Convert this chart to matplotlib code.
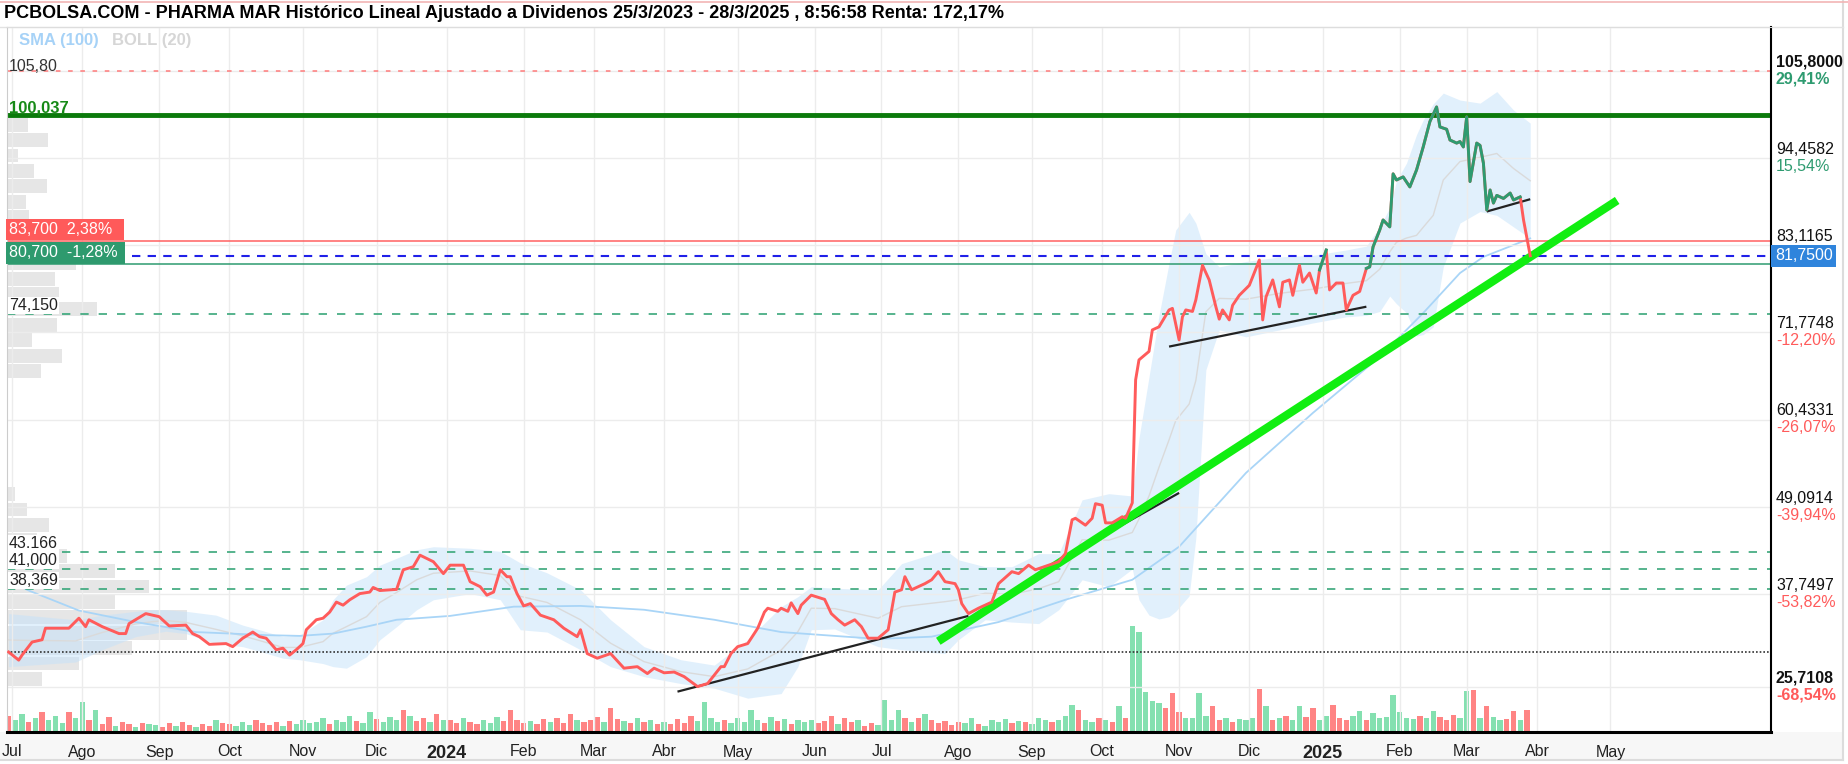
import numpy as np
import pandas as pd
import matplotlib
matplotlib.use("Agg")
import matplotlib.pyplot as plt
from matplotlib.transforms import blended_transform_factory
from matplotlib.lines import Line2D
from matplotlib.patches import Rectangle

plt.rcParams['font.family'] = ['Liberation Sans', 'DejaVu Sans']

# ---- daily closes ----
price_dates = [
    "2023-06-30", "2023-07-05", "2023-07-06", "2023-07-11", "2023-07-14", "2023-07-17", "2023-07-26", "2023-07-31",
    "2023-08-02", "2023-08-03", "2023-08-09", "2023-08-16", "2023-08-18", "2023-08-21", "2023-08-28", "2023-09-01",
    "2023-09-06", "2023-09-13", "2023-09-15", "2023-09-19", "2023-09-22", "2023-09-29", "2023-10-03", "2023-10-06",
    "2023-10-11", "2023-10-13", "2023-10-17", "2023-10-20", "2023-10-24", "2023-10-26", "2023-10-30", "2023-11-01",
    "2023-11-02", "2023-11-07", "2023-11-09", "2023-11-13", "2023-11-15", "2023-11-17", "2023-11-21", "2023-11-24",
    "2023-11-29", "2023-11-30", "2023-12-04", "2023-12-11", "2023-12-13", "2023-12-18", "2023-12-20", "2023-12-26",
    "2023-12-29", "2024-01-02", "2024-01-08", "2024-01-10", "2024-01-15", "2024-01-17", "2024-01-19", "2024-01-23",
    "2024-01-25", "2024-01-26", "2024-01-30", "2024-02-01", "2024-02-05", "2024-02-08", "2024-02-14", "2024-02-19",
    "2024-02-23", "2024-02-26", "2024-02-28", "2024-03-04", "2024-03-08", "2024-03-14", "2024-03-20", "2024-03-25",
    "2024-03-27", "2024-04-01", "2024-04-04", "2024-04-09", "2024-04-15", "2024-04-18", "2024-04-24", "2024-04-25",
    "2024-04-29", "2024-05-01", "2024-05-06", "2024-05-09", "2024-05-13", "2024-05-14", "2024-05-17", "2024-05-20",
    "2024-05-22", "2024-05-23", "2024-05-27", "2024-05-28", "2024-05-31", "2024-06-06", "2024-06-10", "2024-06-12",
    "2024-06-14", "2024-06-19", "2024-06-21", "2024-06-25", "2024-06-28", "2024-07-03", "2024-07-05", "2024-07-09",
    "2024-07-10", "2024-07-12", "2024-07-18", "2024-07-22", "2024-07-24", "2024-07-26", "2024-07-31", "2024-08-01",
    "2024-08-02", "2024-08-06", "2024-08-09", "2024-08-15", "2024-08-19", "2024-08-23", "2024-08-27", "2024-08-30",
    "2024-09-03", "2024-09-09", "2024-09-12", "2024-09-16", "2024-09-18", "2024-09-19", "2024-09-24", "2024-09-26",
    "2024-09-27", "2024-10-01", "2024-10-02", "2024-10-04", "2024-10-09", "2024-10-10", "2024-10-14", "2024-10-15",
    "2024-10-16", "2024-10-21", "2024-10-22", "2024-10-24", "2024-10-29", "2024-10-30", "2024-11-01", "2024-11-04",
    "2024-11-05", "2024-11-07", "2024-11-08", "2024-11-12", "2024-11-14", "2024-11-18", "2024-11-19", "2024-11-20",
    "2024-11-22", "2024-11-25", "2024-11-27", "2024-12-02", "2024-12-05", "2024-12-06", "2024-12-09", "2024-12-11",
    "2024-12-13", "2024-12-16", "2024-12-18", "2024-12-19", "2024-12-23", "2024-12-24", "2024-12-26", "2024-12-30",
    "2024-12-31", "2025-01-02", "2025-01-03", "2025-01-07", "2025-01-09", "2025-01-10", "2025-01-14", "2025-01-16",
    "2025-01-20", "2025-01-21", "2025-01-22", "2025-01-24", "2025-01-27", "2025-01-29", "2025-01-30", "2025-01-31",
    "2025-02-04", "2025-02-06", "2025-02-10", "2025-02-12", "2025-02-14", "2025-02-18", "2025-02-19", "2025-02-21",
    "2025-02-24", "2025-02-26", "2025-02-27", "2025-02-28", "2025-03-03", "2025-03-04", "2025-03-06", "2025-03-07",
    "2025-03-10", "2025-03-11", "2025-03-12", "2025-03-13", "2025-03-14", "2025-03-18", "2025-03-20", "2025-03-21",
    "2025-03-25", "2025-03-26", "2025-03-28",
]
price_close = [
    30.2, 29.15, 29.8, 31.5, 31.8, 33.3, 33.3, 34.6,
    33.5, 34.4, 33.5, 32.6, 32.6, 33.9, 35.2, 34.8,
    33.6, 33.7, 32.6, 32.2, 31.2, 31.3, 30.9, 32.0,
    32.8, 32.2, 32.0, 30.5, 30.7, 29.8, 30.5, 31.3,
    33.1, 34.4, 34.6, 35.4, 36.7, 36.3, 37.0, 37.8,
    38.0, 38.6, 38.2, 38.35, 40.9, 41.3, 42.8, 41.95,
    40.4, 41.5, 41.5, 39.35, 38.7, 37.6, 38.0, 40.9,
    40.0, 40.0, 37.8, 36.2, 36.5, 35.0, 34.4, 33.3,
    32.2, 33.1, 30.0, 29.4, 30.0, 28.1, 28.3, 27.4,
    28.1, 27.5, 27.6, 27.0, 25.71, 26.1, 28.3, 28.3,
    30.0, 30.9, 31.3, 33.3, 35.4, 35.9, 35.5, 35.9,
    35.5, 36.6, 35.2, 36.3, 37.6, 37.05, 35.2, 34.4,
    33.7, 34.4, 33.5, 32.0, 32.0, 33.1, 38.0, 38.3,
    40.0, 38.3, 39.1, 39.6, 40.65, 39.35, 39.1, 38.3,
    36.5, 35.2, 35.9, 36.7, 39.1, 40.65, 40.4, 41.5,
    40.9, 41.5, 41.95, 43.0, 47.4, 47.6, 46.7, 47.6,
    49.5, 49.3, 47.0, 47.0, 47.8, 47.6, 49.6, 65.6,
    68.2, 69.3, 72.1, 72.5, 74.7, 74.9, 70.8, 73.8,
    74.7, 74.5, 76.0, 80.5, 78.6, 75.1, 73.5, 74.7,
    73.4, 75.3, 76.6, 77.9, 81.2, 73.4, 76.4, 78.6,
    75.1, 78.3, 78.6, 76.6, 80.5, 78.3, 79.5, 76.9,
    79.9, 82.5, 77.3, 78.2, 78.2, 74.7, 76.6, 77.1,
    80.1, 80.3, 82.9, 85.1, 86.4, 85.5, 92.4, 91.6,
    92.0, 90.7, 92.9, 95.9, 99.2, 101.1, 98.5, 98.2,
    96.8, 96.4, 96.6, 95.9, 99.8, 91.4, 96.4, 96.1,
    93.8, 87.7, 90.3, 88.6, 89.6, 89.2, 89.9, 89.0,
    89.4, 86.4, 81.75,
]
green_spans = [("2024-12-31", "2025-01-02"), ("2025-01-20", "2025-03-25")]

# ---- Bollinger (20) bands ----
band_dates = [
    "2023-06-30", "2023-07-28", "2023-08-09", "2023-08-23", "2023-08-30", "2023-09-05", "2023-09-13", "2023-09-26",
    "2023-10-06", "2023-10-13", "2023-10-24", "2023-10-31", "2023-11-09", "2023-11-14", "2023-11-20", "2023-11-28",
    "2023-12-04", "2023-12-11", "2023-12-19", "2023-12-26", "2024-01-10", "2024-01-23", "2024-01-31", "2024-02-12",
    "2024-02-26", "2024-03-08", "2024-03-22", "2024-04-08", "2024-04-22", "2024-05-06", "2024-05-20", "2024-05-27",
    "2024-05-31", "2024-06-11", "2024-06-28", "2024-07-09", "2024-07-26", "2024-08-01", "2024-08-13", "2024-08-23",
    "2024-09-04", "2024-09-12", "2024-09-23", "2024-10-03", "2024-10-14", "2024-10-16", "2024-10-21", "2024-10-24",
    "2024-10-29", "2024-10-31", "2024-11-06", "2024-11-08", "2024-11-13", "2024-11-19", "2024-11-29", "2024-12-13",
    "2024-12-27", "2025-01-10", "2025-01-20", "2025-01-24", "2025-01-29", "2025-01-31", "2025-02-05", "2025-02-10",
    "2025-02-12", "2025-02-17", "2025-02-20", "2025-02-27", "2025-03-07", "2025-03-14", "2025-03-21", "2025-03-28",
]
band_upper = [
    35.2, 34.4, 35.0, 35.5, 35.7, 35.7, 35.5, 35.0,
    33.7, 33.1, 32.2, 32.4, 34.4, 37.0, 38.9, 40.0,
    41.5, 42.4, 43.5, 43.9, 43.7, 43.3, 41.8, 40.5,
    38.3, 34.4, 30.9, 29.2, 28.5, 31.8, 36.1, 37.4,
    38.7, 38.5, 38.3, 41.7, 43.5, 42.2, 41.3, 41.3,
    43.0, 43.0, 50.0, 50.8, 50.5, 58.0, 66.0, 74.0,
    80.8, 85.1, 87.4, 86.0, 82.0, 80.3, 81.0, 81.6,
    81.8, 82.5, 83.0, 85.5, 88.0, 91.5, 93.8, 97.5,
    99.4, 101.5, 102.9, 102.0, 101.6, 103.1, 100.7, 99.0,
]
band_lower = [
    28.3, 28.9, 30.5, 32.2, 32.6, 32.9, 32.6, 31.3,
    30.9, 30.3, 29.4, 29.2, 28.7, 28.3, 28.1, 29.6,
    31.8, 33.5, 35.7, 37.0, 37.8, 37.0, 33.1, 32.8,
    30.5, 28.3, 27.0, 26.1, 25.5, 24.2, 24.8, 28.3,
    33.1, 33.2, 30.9, 30.5, 30.0, 31.8, 34.4, 34.1,
    33.9, 35.7, 39.6, 38.7, 41.0, 37.0, 35.0, 34.5,
    34.8, 35.5, 37.5, 45.0, 66.9, 72.1, 71.2, 72.1,
    73.0, 73.8, 74.0, 74.5, 76.5, 75.5, 74.3, 71.3,
    71.5, 72.5, 80.3, 86.0, 87.5, 87.0, 85.5, 84.0,
]

# ---- SMA (100) ----
sma_dates = [
    "2023-06-30", "2023-07-10", "2023-07-31", "2023-08-23", "2023-09-18", "2023-10-17", "2023-10-31", "2023-11-14",
    "2023-11-28", "2023-12-11", "2024-01-02", "2024-01-29", "2024-02-26", "2024-03-22", "2024-04-22", "2024-05-20",
    "2024-06-11", "2024-06-28", "2024-07-22", "2024-08-19", "2024-09-16", "2024-10-14", "2024-11-01", "2024-11-29",
    "2024-12-27", "2025-01-24", "2025-02-12", "2025-02-27", "2025-03-10", "2025-03-28",
]
sma_values = [
    39.5, 38.2, 35.6, 34.1, 32.8, 32.4, 32.3, 32.6,
    33.5, 34.4, 34.9, 36.1, 36.2, 35.7, 34.4, 32.8,
    32.3, 31.9, 32.2, 34.1, 37.0, 39.6, 43.9, 53.5,
    61.3, 68.6, 74.3, 79.5, 81.6, 84.0,
]

# ---- volume, one value per two sessions (bar heights, 10k shares) ----
volume = (
    [16, 12, 18, 10, 14, 20, 12, 16, 9, 20, 14]            # jul 23
    + [30, 12, 22, 8, 15, 6, 10, 8, 5, 9, 8]               # ago
    + [7, 5, 9, 6, 10, 7, 5, 8, 6, 12, 9]                  # sep
    + [8, 6, 10, 7, 12, 9, 7, 10, 6, 11, 8]                # oct
    + [12, 9, 10, 14, 8, 12, 10, 16, 11, 9, 20]            # nov
    + [13, 10, 15, 12, 22, 16, 11, 14, 10, 18, 12]         # dic
    + [12, 9, 14, 10, 8, 12, 9, 15, 11, 22, 12]            # ene 24
    + [9, 11, 8, 13, 10, 14, 9, 18, 12, 10]                # feb
    + [12, 15, 10, 24, 13, 11, 9, 14, 10, 12, 8]           # mar
    + [10, 8, 13, 9, 16, 11, 30, 14, 10, 12, 9]            # abr
    + [14, 10, 22, 12, 9, 15, 11, 13, 8, 12, 10]           # may
    + [12, 9, 11, 16, 8, 14, 10, 12, 6, 9]                 # jun
    + [7, 32, 12, 22, 14, 10, 14, 18, 12, 9, 11]           # jul
    + [7, 10, 9, 14, 8, 6, 12, 10, 13, 9, 11]              # ago
    + [10, 8, 14, 12, 10, 12, 16, 27, 22, 12, 10, 14]      # sep
    + [12, 10, 26, 14, 106, 100, 40, 31, 29, 24, 39]       # oct
    + [20, 14, 14, 39, 16, 26, 12, 14, 10, 13, 12]         # nov
    + [14, 43, 26, 12, 14, 16, 12, 26, 15, 24, 12]         # dic
    + [16, 27, 14, 12, 16, 21, 12, 19, 14, 15, 37]         # ene 25
    + [20, 14, 13, 16, 14, 21, 15, 12, 17, 14]             # feb
    + [41, 42, 14, 26, 15, 12, 13, 21, 12, 22]             # mar
)
volume_dir = (
    "rggrgrgggrg" "grgrrgrrgrg" "grrgrrgrrgr" "rgggrrrrgrg" "ggggrgggrgg" "rgggrgrrgrg"
    "rrgrrgggrrr" "rgrrgrrrgr" "rrgrrgrgrgr" "grrrrggggrg" "ggggrgrgrgg" "grrrgrrgrr"
    "ggggrgrgrrr" "rrggrggggrg" "rgggrgggrggr" "grgrgggggrr" "rggggrrgrgg" "grgrgrggrrg"
    "grrrggrgggg" "gggrggrrrg" "grgrggrrgr"
)

# ---- volume at price (left profile) ----
profile_low = 25.7108
profile_step = 2.0023
profile_width = [35, 72, 125, 180, 180, 108, 142, 108, 60, 30,
                 42, 20, 8, 0, 0, 0, 0, 0, 0, 0,
                 34, 55, 25, 50, 90, 52, 48, 69, 45, 30,
                 22, 19, 40, 27, 11, 41, 21, 0, 0, 0]

# ---- levels and drawn lines ----
last_price = 81.75
right_ticks = [105.8, 94.4582, 83.1165, 71.7748, 60.4331, 49.0914, 37.7497, 25.7108]
right_pct = ["29,41%", "15,54%", "", "-12,20%", "-26,07%", "-39,94%", "-53,82%", "-68,54%"]
support_levels = [74.15, 43.166, 41.0, 38.369]
support_labels = ["74,150", "43.166", "41,000", "38,369"]
resistance_level = 100.037
max_level = 105.8
start_level = 30.2
box_high, box_low = 83.7, 80.7

black_trend_dates = [("2024-04-05", "2024-08-06"), ("2024-09-10", "2024-11-01"),
                     ("2024-10-29", "2025-01-20"), ("2025-03-11", "2025-03-28")]
black_trend_values = [(25.05, 34.9), (41.6, 50.9), (69.93, 75.12), (87.5, 89.1)]
green_trend_dates = ("2024-07-24", "2025-05-05")
green_trend_values = (31.6, 88.94)

month_labels = ["Jul", "Ago", "Sep", "Oct", "Nov", "Dic", "2024", "Feb", "Mar", "Abr", "May", "Jun",
                "Jul", "Ago", "Sep", "Oct", "Nov", "Dic", "2025", "Feb", "Mar", "Abr", "May"]

# ---------------- plotting ----------------
W, H = 1848, 764
bdays = pd.bdate_range("2023-06-30", "2025-07-31")


def pos(d):
    return bdays.searchsorted(pd.Timestamp(d))


RED = "#ff5b5b"
GREEN = "#2e9b70"

fig = plt.figure(figsize=(W / 100, H / 100), dpi=100, facecolor="white")

# grey strip under the date axis and outer frame
fig.add_artist(Rectangle((0, 4 / H), 1843 / W, 28 / H, transform=fig.transFigure,
                         fc="#f7f7f7", ec="none", zorder=-5))
fig.add_artist(Line2D([0, 1843 / W], [4 / H, 4 / H], color="#dcdcdc", lw=1.5))
fig.add_artist(Line2D([1843 / W, 1843 / W], [4 / H, 1], color="#dcdcdc", lw=1.5))
fig.add_artist(Line2D([0, 1], [1 - 1.5 / H, 1 - 1.5 / H], color="#f2b5b5", lw=1.2))

ax = fig.add_axes([7 / W, 32 / H, 1764 / W, 705 / H])
ax2 = ax.twinx()
ax.set_zorder(2)
ax.patch.set_visible(False)

x_end = pos("2025-07-08")
ax.set_xlim(-0.5, x_end)
ax.set_ylim(19.8, 111.5)

# volume bars
vol_x = np.arange(len(volume)) * 2
vol_colors = ["#84e0b0" if c == "g" else "#ff8484" for c in volume_dir]
ax2.bar(vol_x, volume, width=1.6, color=vol_colors, linewidth=0)
ax2.set_ylim(0, 705)
ax2.set_yticks([])
for s in ax2.spines.values():
    s.set_visible(False)

# grid
months = pd.date_range("2023-07-01", "2025-05-01", freq="MS")
month_pos = [pos(m) for m in months]
ax.set_xticks(month_pos)
ax.set_xticklabels(month_labels)
ax.set_yticks(right_ticks)
ax.set_yticklabels([])
ax.grid(True, color="#ececec", lw=1, zorder=0)
ax.tick_params(axis="both", length=0)
ax.tick_params(axis="x", pad=9, labelsize=11.5, colors="#222222")
for lab in ax.get_xticklabels():
    if lab.get_text() in ("2024", "2025"):
        lab.set_fontweight("bold")
        lab.set_fontsize(13)

ax.spines["right"].set_color("black")
ax.spines["right"].set_linewidth(1.5)
ax.spines["bottom"].set_color("black")
ax.spines["bottom"].set_linewidth(2.2)
ax.spines["top"].set_color("#dddddd")
ax.spines["left"].set_color("#cccccc")

# volume profile
trans_px = blended_transform_factory(ax.transAxes, ax.transData)
prof_y = profile_low + profile_step * (np.arange(len(profile_width)) + 0.5)
ax.barh(prof_y, np.array(profile_width) / 1764.0, height=profile_step * 0.9, left=0,
        color="#e6e6e6", transform=trans_px, zorder=0.5, linewidth=0)

# Bollinger band + SMA
bx = np.array([pos(d) for d in band_dates])
up = np.array(band_upper)
lo = np.array(band_lower)
ax.fill_between(bx, lo, up, color="#c4e2fa", alpha=0.5, lw=0, zorder=1)
ax.plot(bx, (up + lo) / 2, color="#dadada", lw=1, zorder=1.2)
ax.plot([pos(d) for d in sma_dates], sma_values, color="#a9d5f7", lw=1.3, zorder=1.3)

# horizontal levels
ax.axhline(max_level, color="#ff7b7b", lw=1.1, dashes=(3, 5), zorder=2)
ax.axhline(resistance_level, color="#0b7a0b", lw=3.5, zorder=2)
ax.axhline(box_high, color="#ff6060", lw=1.1, zorder=2)
ax.axhline(box_low, color=GREEN, lw=1.1, zorder=2)
ax.axhline(last_price, color="#2020e8", lw=1.5, dashes=(4, 3.5), zorder=2)
for lv in support_levels:
    ax.axhline(lv, color="#39a77a", lw=1.2, dashes=(5, 6), zorder=2)
ax.axhline(start_level, color="#333333", lw=1.2, dashes=(1, 1.2), zorder=2)

# trend lines
for (d0, d1), (v0, v1) in zip(black_trend_dates, black_trend_values):
    ax.plot([pos(d0), pos(d1)], [v0, v1], color="#222222", lw=1.6, zorder=3,
            solid_capstyle="butt")
ax.plot([pos(green_trend_dates[0]), pos(green_trend_dates[1])], green_trend_values,
        color="#11ee11", lw=6, zorder=3.5, solid_capstyle="butt")

# price
px = np.array([pos(d) for d in price_dates])
py = np.array(price_close)
pdates = pd.to_datetime(price_dates)
ax.plot(px, py, color=RED, lw=2.1, zorder=4)
for s, e in green_spans:
    m = (pdates >= pd.Timestamp(s)) & (pdates <= pd.Timestamp(e))
    ax.plot(px[m], py[m], color=GREEN, lw=2.1, zorder=4.1)

# right axis labels
tr_right = blended_transform_factory(fig.transFigure, ax.transData)
xr = 1776 / W
for v, pct in zip(right_ticks, right_pct):
    bold = v in (right_ticks[0], right_ticks[-1])
    w = "bold" if bold else "normal"
    ax.text(xr, v + 0.15, f"{v:.4f}".replace(".", ","), transform=tr_right, ha="left",
            va="bottom", fontsize=11.5, color="#111111", fontweight=w, clip_on=False)
    if pct:
        ax.text(xr, v - 0.1, pct, transform=tr_right, ha="left", va="top", fontsize=11.5,
                color=GREEN if not pct.startswith("-") else RED, fontweight=w, clip_on=False)
ax.text(xr - 1 / W, last_price, f"{last_price:.4f}".replace(".", ","), transform=tr_right,
        ha="left", va="center", fontsize=11.5, color="white", clip_on=False, zorder=10,
        bbox=dict(boxstyle="square,pad=0.22", fc="#2f84dc", ec="none"))

# left labels
xl = 9 / W
ax.text(xl, max_level - 0.35, "105,80", transform=tr_right, ha="left", va="bottom",
        fontsize=11.5, color="#333333")
ax.text(xl, resistance_level - 0.05, "100,037", transform=tr_right, ha="left", va="bottom",
        fontsize=12, color="#178a17", fontweight="bold")
ax.text(xl, box_high + 0.45, "83,700  2,38%  ", transform=tr_right, ha="left", va="bottom",
        fontsize=11.5, color="white", zorder=10,
        bbox=dict(boxstyle="square,pad=0.2", fc="#ff5a5a", ec="none"))
ax.text(xl, box_low + 0.45, "80,700  -1,28% ", transform=tr_right, ha="left", va="bottom",
        fontsize=11.5, color="white", zorder=10,
        bbox=dict(boxstyle="square,pad=0.2", fc="#2e9a6e", ec="none"))
for lv, lab in zip(support_levels, support_labels):
    ax.text(xl, lv + 0.15, lab, transform=tr_right, ha="left", va="bottom", fontsize=11.5,
            color="#222222", zorder=6,
            bbox=dict(boxstyle="square,pad=0.05", fc="white", ec="none"))

# header
fig.text(4 / W, 1 - 14 / H,
         "PCBOLSA.COM - PHARMA MAR Histórico Lineal Ajustado a Dividenos 25/3/2023 - 28/3/2025 , 8:56:58 Renta: 172,17%",
         ha="left", va="center", fontsize=13, fontweight="bold",
         family=["Liberation Sans Narrow", "Liberation Sans", "DejaVu Sans"])
fig.add_artist(Line2D([0, 1843 / W], [1 - 27 / H, 1 - 27 / H], color="#e2e2e2", lw=1))
fig.text(19 / W, 1 - 41 / H, "SMA (100)", ha="left", va="center", fontsize=12,
         fontweight="bold", color="#a6d2f7")
fig.text(112 / W, 1 - 41 / H, "BOLL (20)", ha="left", va="center", fontsize=12,
         fontweight="bold", color="#d6d6d6")

fig.savefig("out.png", dpi=100, facecolor="white")
